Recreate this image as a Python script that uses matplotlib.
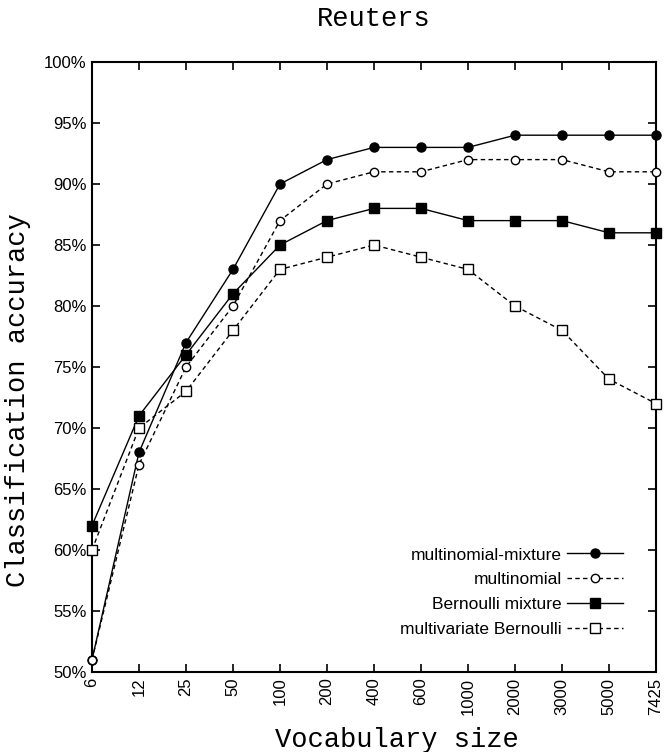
import matplotlib
matplotlib.use("Agg")
import matplotlib.pyplot as plt
import numpy as np

vocab = ["6", "12", "25", "50", "100", "200", "400", "600", "1000", "2000", "3000", "5000", "7425"]
multinomial_mixture = [51, 68, 77, 83, 90, 92, 93, 93, 93, 94, 94, 94, 94]
multinomial = [51, 67, 75, 80, 87, 90, 91, 91, 92, 92, 92, 91, 91]
bernoulli_mixture = [62, 71, 76, 81, 85, 87, 88, 88, 87, 87, 87, 86, 86]
multivariate_bernoulli = [60, 70, 73, 78, 83, 84, 85, 84, 83, 80, 78, 74, 72]
yticks = [50, 55, 60, 65, 70, 75, 80, 85, 90, 95, 100]

mono = "Liberation Mono"
sans = "Liberation Sans"

fig = plt.figure(figsize=(6.66, 7.52), dpi=100)
ax = fig.add_axes([92/666, 1-672/752, (656-92)/666, (672-62)/752])

x = np.arange(len(vocab))
dash = (0, (3.2, 2.4))
ax.plot(x, multinomial_mixture, color="black", lw=1.0, marker="o", ms=6.5,
        mfc="black", mec="black", label="multinomial-mixture", clip_on=False, zorder=3)
ax.plot(x, multinomial, color="black", lw=1.0, ls=dash, marker="o", ms=6,
        mfc="white", mec="black", mew=1.0, label="multinomial", clip_on=False, zorder=3)
ax.plot(x, bernoulli_mixture, color="black", lw=1.0, marker="s", ms=6.5,
        mfc="black", mec="black", label="Bernoulli mixture", clip_on=False, zorder=3)
ax.plot(x, multivariate_bernoulli, color="black", lw=1.0, ls=dash, marker="s", ms=6.5,
        mfc="white", mec="black", mew=1.0, label="multivariate Bernoulli", clip_on=False, zorder=3)

ax.set_xlim(0, len(vocab)-1)
ax.set_ylim(50, 100)
ax.set_xticks(x)
ax.set_xticklabels(vocab, rotation=90, fontsize=12, family=sans)
ax.set_yticks(yticks)
ax.set_yticklabels([f"{v}%" for v in yticks], fontsize=12, family=sans)
ax.tick_params(direction="in", length=6, width=1.2, top=True, right=True, pad=4)
for s in ax.spines.values():
    s.set_linewidth(1.5)

ax.set_title("Reuters", family=mono, fontsize=19.5, pad=26)
ax.set_xlabel("Vocabulary size", family=mono, fontsize=19.5)
ax.set_ylabel("Classification accuracy", family=mono, fontsize=19.5)
ax.xaxis.set_label_coords(0.541, -0.1115)
ax.xaxis.label.set_va("center")
ax.yaxis.set_label_coords(-0.131, 0.446)
ax.yaxis.label.set_va("center")

leg = ax.legend(loc="lower right", bbox_to_anchor=(0.941, 0.058), frameon=False,
                markerfirst=False, prop={"family": sans, "size": 12.5},
                handlelength=3.2, borderpad=0, borderaxespad=0, labelspacing=0.55,
                handletextpad=0.3)
for t in leg.get_texts():
    t.set_ha("right")

fig.savefig("out.png", dpi=100)
